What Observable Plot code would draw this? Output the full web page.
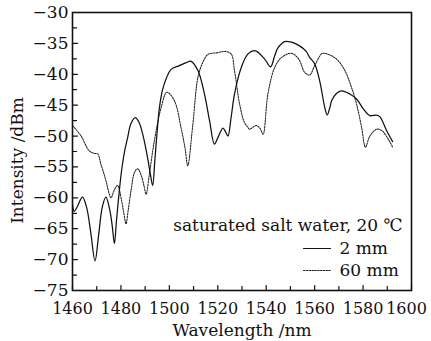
<!DOCTYPE html>
<html><head><meta charset="utf-8">
<script src="https://cdn.jsdelivr.net/npm/d3@7"></script>
<script src="https://cdn.jsdelivr.net/npm/@observablehq/plot@0.6"></script>
<style>body{margin:0;background:#fff;} #chart svg{display:block}</style>
</head><body><div id="chart"></div>
<script>
const solidWavelength = [1460.0,1460.7,1462.0,1464.1,1465.8,1467.5,1469.3,1470.8,1472.3,1473.8,1475.3,1476.4,1477.3,1478.2,1479.3,1480.3,1481.5,1482.8,1484.1,1485.9,1487.5,1489.0,1491.0,1492.3,1493.1,1494.0,1494.8,1495.9,1497.2,1498.8,1500.7,1504.1,1507.0,1509.0,1511.8,1514.5,1516.6,1518.6,1520.0,1522.1,1523.2,1524.2,1525.5,1526.9,1529.7,1532.5,1535.5,1539.3,1541.8,1543.5,1544.9,1547.6,1550.5,1553.8,1556.5,1558.0,1560.0,1562.1,1564.2,1565.2,1566.2,1567.0,1569.0,1571.1,1574.5,1577.3,1580.1,1582.8,1585.6,1587.0,1589.7,1592.2];
const solidIntensity = [-61.0,-62.2,-61.4,-59.9,-61.5,-65.5,-70.2,-66.0,-61.5,-59.9,-61.8,-64.5,-67.4,-63.5,-59.0,-55.5,-52.5,-50.2,-48.0,-47.0,-47.8,-49.7,-53.5,-56.5,-58.0,-54.0,-50.0,-45.4,-42.5,-40.6,-39.2,-38.6,-38.1,-37.9,-39.4,-43.2,-47.5,-51.3,-50.3,-48.7,-49.3,-50.0,-47.0,-43.2,-38.9,-36.7,-36.2,-37.5,-38.8,-37.0,-35.7,-34.7,-34.8,-35.4,-36.3,-37.3,-38.3,-41.1,-45.4,-46.6,-45.5,-44.3,-43.1,-42.7,-43.2,-44.0,-45.6,-46.7,-46.6,-46.9,-49.1,-50.9];
const dashWavelength = [1460.0,1463.4,1466.9,1468.9,1470.4,1471.7,1473.8,1475.2,1475.9,1477.2,1478.6,1480.3,1481.2,1482.1,1483.0,1484.3,1485.5,1486.9,1488.5,1489.6,1490.4,1491.8,1493.8,1496.6,1499.0,1502.1,1504.8,1506.5,1507.6,1509.7,1511.8,1513.8,1515.9,1520.0,1522.8,1525.5,1526.9,1529.0,1531.0,1532.5,1533.1,1535.9,1537.5,1538.7,1540.7,1543.5,1546.3,1550.4,1553.5,1555.9,1558.0,1560.0,1562.8,1563.5,1567.0,1569.7,1572.5,1575.2,1577.3,1579.4,1581.0,1582.8,1585.6,1587.7,1590.4,1592.2];
const dashIntensity = [-48.3,-49.9,-52.4,-52.8,-52.9,-54.5,-57.2,-59.4,-60.0,-58.8,-58.0,-60.5,-62.5,-64.2,-62.0,-58.5,-56.0,-55.3,-56.5,-58.2,-59.4,-56.0,-50.8,-45.4,-42.9,-44.3,-48.6,-52.0,-54.8,-48.1,-40.5,-38.1,-36.8,-36.5,-36.3,-36.7,-39.4,-44.8,-47.8,-48.6,-48.9,-48.3,-48.8,-49.7,-43.2,-38.9,-37.3,-36.6,-37.6,-39.7,-40.1,-38.6,-36.7,-36.6,-37.0,-37.8,-39.4,-42.1,-44.8,-48.6,-51.8,-50.0,-48.9,-49.1,-50.5,-51.8];
const xTicks = [1460,1480,1500,1520,1540,1560,1580,1600];
const xMinorTicks = [1470,1490,1510,1530,1550,1570,1590];
const yTicks = [-75,-70,-65,-60,-55,-50,-45,-40,-35,-30];
const yMinorTicks = [-72.5,-67.5,-62.5,-57.5,-52.5,-47.5,-42.5,-37.5,-32.5];
const xTitle = "Wavelength /nm";
const yTitle = "Intensity /dBm";
const legendTitle = "saturated salt water, 20 ℃";
const seriesLabels = ["2 mm", "60 mm"];

const solid = solidWavelength.map((x, i) => ({x, y: solidIntensity[i]}));
const dashed = dashWavelength.map((x, i) => ({x, y: dashIntensity[i]}));
const tickShape = {draw(context, l) { context.moveTo(0, 0); context.lineTo(0, -l); }};
const ink = "#111";
const font = 17;
const tickFont = 16;
const xInner = xTicks.slice(0, -1);
const xLast = xTicks.slice(-1);

const chart = Plot.plot({
  width: 431, height: 341,
  marginLeft: 72, marginRight: 20, marginTop: 12, marginBottom: 51,
  style: {fontFamily: "'DejaVu Serif', serif", fontSize: "17px", color: ink, background: "#fff"},
  x: {domain: [1460, 1600]},
  y: {domain: [-75, -30]},
  marks: [
    Plot.line(dashed, {x: "x", y: "y", stroke: "#222", strokeWidth: 1.05, strokeDasharray: "1.6,1.2", curve: "catmull-rom"}),
    Plot.line(solid, {x: "x", y: "y", stroke: ink, strokeWidth: 1.25, curve: "catmull-rom"}),
    Plot.vector(xTicks, {x: d => d, frameAnchor: "bottom", length: 5, rotate: 0, anchor: "start", shape: tickShape, stroke: ink, strokeWidth: 1.2}),
    Plot.vector(xMinorTicks, {x: d => d, frameAnchor: "bottom", length: 4, rotate: 0, anchor: "start", shape: tickShape, stroke: ink, strokeWidth: 1.2}),
    Plot.vector(yTicks, {y: d => d, frameAnchor: "left", length: 5, rotate: 90, anchor: "start", shape: tickShape, stroke: ink, strokeWidth: 1.2}),
    Plot.vector(yMinorTicks, {y: d => d, frameAnchor: "left", length: 4, rotate: 90, anchor: "start", shape: tickShape, stroke: ink, strokeWidth: 1.2}),
    Plot.frame({stroke: ink, strokeWidth: 1.6}),
    Plot.axisX(xInner, {tickSize: 0, tickPadding: 12, fontSize: tickFont, tickFormat: d => String(d), label: null}),
    Plot.axisX(xLast, {tickSize: 0, tickPadding: 12, fontSize: tickFont, tickFormat: d => String(d), label: null, dx: -5}),
    Plot.axisY(yTicks, {tickSize: 0, tickPadding: 4, fontSize: font, label: null}),
    Plot.text([xTitle], {text: d => d, frameAnchor: "bottom", lineAnchor: "middle", textAnchor: "middle", dy: 40, fontSize: font}),
    Plot.text([yTitle], {text: d => d, frameAnchor: "left", lineAnchor: "middle", textAnchor: "middle", dx: -55, dy: 9, rotate: -90, fontSize: font}),
    Plot.text([legendTitle], {text: d => d, frameAnchor: "bottom-right", lineAnchor: "middle", textAnchor: "end", dx: -9, dy: -65, fontSize: font}),
    Plot.text([seriesLabels[0]], {text: d => d, frameAnchor: "bottom-right", lineAnchor: "middle", textAnchor: "start", dx: -72, dy: -42, fontSize: font}),
    Plot.text([seriesLabels[1]], {text: d => d, frameAnchor: "bottom-right", lineAnchor: "middle", textAnchor: "start", dx: -72, dy: -20, fontSize: font}),
    Plot.vector([seriesLabels[0]], {frameAnchor: "bottom-right", dx: -108, dy: -42, length: 27, rotate: 90, anchor: "start", shape: tickShape, stroke: ink, strokeWidth: 1.1}),
    Plot.vector([seriesLabels[1]], {frameAnchor: "bottom-right", dx: -108, dy: -20, length: 27, rotate: 90, anchor: "start", shape: tickShape, stroke: "#222", strokeWidth: 1.0, strokeDasharray: "1.6,1.2"})
  ]
});
document.getElementById("chart").appendChild(chart);
</script>
</body></html>
